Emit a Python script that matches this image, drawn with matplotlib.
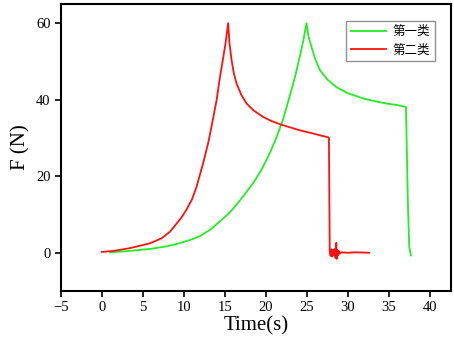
import matplotlib
matplotlib.use("Agg")
import matplotlib.pyplot as plt

plt.rcParams['font.family'] = ['Liberation Serif', 'Noto Sans CJK SC', 'DejaVu Sans']

# 第一类 (green)
t1 = [1.0, 3.0, 5.9, 8.0, 9.5, 11.0, 12.0, 13.2, 14.4, 15.5, 16.4, 17.4, 18.45, 19.4, 20.3,
      21.2, 22.1, 22.9, 23.6, 24.2, 24.6, 24.96,
      25.2, 25.57, 26.0, 26.6, 27.5, 28.6, 30.0, 31.9, 33.3, 34.7, 36.0, 37.1, 37.2, 37.35, 37.5, 37.7]
f1 = [0.1, 0.4, 1.0, 1.7, 2.5, 3.5, 4.4, 6.0, 8.2, 10.3, 12.5, 15.2, 18.2, 21.4, 25.2,
      29.6, 34.8, 40.8, 46.3, 51.8, 55.7, 60.0,
      56.6, 53.8, 50.8, 47.7, 45.3, 43.3, 41.7, 40.3, 39.6, 39.0, 38.6, 38.1, 27.7, 12.0, 1.6, -0.7]

# 第二类 (red)
t2 = [0.0, 1.5, 3.4, 4.8, 5.9, 7.3, 8.3, 9.1, 9.7, 10.3, 11.0, 11.55, 12.35, 13.0, 13.6,
      14.0, 14.4, 14.8, 15.1, 15.4,
      15.55, 15.82, 16.1, 16.43, 17.0, 17.65, 18.5, 19.67, 20.6, 21.7, 22.9, 24.15, 25.5,
      26.6, 27.7, 27.8, 27.9, 28.0, 28.1, 28.2, 28.3,
      28.4, 28.5, 28.6, 28.65, 28.7, 28.8, 28.9, 29.0, 29.2, 30.0, 31.0, 32.6]
f2 = [0.2, 0.5, 1.2, 1.9, 2.5, 3.8, 5.5, 7.6, 9.2, 11.2, 14.0, 17.3, 23.4, 29.0, 35.5,
      40.0, 45.9, 51.0, 55.0, 60.0,
      55.0, 50.3, 46.8, 44.2, 41.3, 39.0, 37.2, 35.5, 34.5, 33.6, 32.8, 32.0, 31.3,
      30.7, 30.1, 0.5, -0.8, 0.9, -1.0, 0.7, -0.6,
      1.0, -1.3, 2.6, -1.6, 0.8, -0.7, 0.5, -0.3, 0.1, 0.0, 0.1, 0.0]

fig = plt.figure(figsize=(4.54, 3.40), dpi=100)
ax = fig.add_axes([61 / 454, 1 - 291 / 340, 390 / 454, 287 / 340])

ax.plot(t1, f1, color='#22ee22', lw=1.3, label='第一类')
ax.plot(t2, f2, color='#ff1010', lw=1.3, label='第二类')

ax.set_xlim(-5, 42.6)
ax.set_ylim(-10, 65)
ax.set_xticks(range(-5, 45, 5))
ax.set_yticks([0, 20, 40, 60])
ax.tick_params(direction='out', length=4, width=1.2, labelsize=10.5, top=False, right=False)
for s in ax.spines.values():
    s.set_linewidth(1.5)

ax.set_xlabel('Time(s)', fontsize=15, labelpad=1)
ax.set_ylabel('F (N)', fontsize=15, labelpad=4)

leg = ax.legend(loc='upper right', bbox_to_anchor=(0.959, 0.941), borderaxespad=0,
                fontsize=9, fancybox=False, edgecolor='#777777', handlelength=2.8,
                handletextpad=0.5, borderpad=0.4, labelspacing=0.5)
leg.get_frame().set_linewidth(1.0)

fig.savefig('out.png', dpi=100)
